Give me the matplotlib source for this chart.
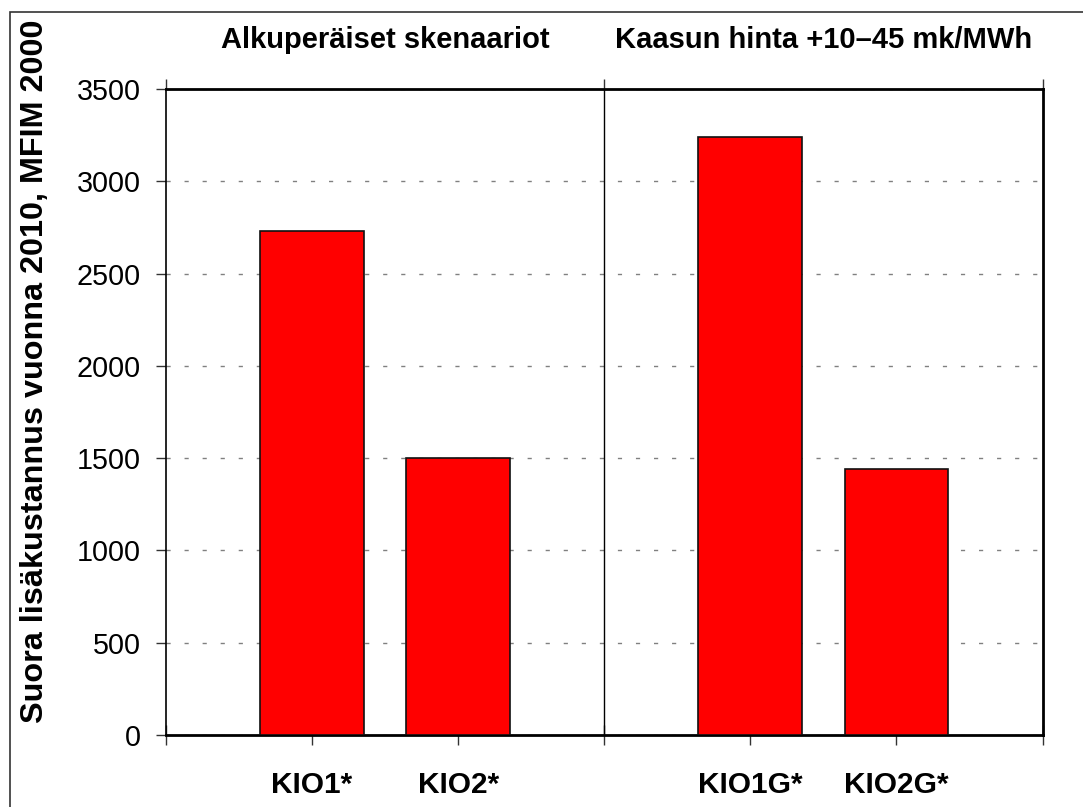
import matplotlib
matplotlib.use("Agg")
import matplotlib.pyplot as plt
from matplotlib.patches import Rectangle
from matplotlib.transforms import blended_transform_factory

# Data
categories = ["KIO1*", "KIO2*", "KIO1G*", "KIO2G*"]
positions = [1, 2, 4, 5]
values = [2730, 1500, 3240, 1440]
group_titles = ["Alkuperäiset skenaariot", "Kaasun hinta +10–45 mk/MWh"]
group_centers = [1.5, 4.5]
yticks = [0, 500, 1000, 1500, 2000, 2500, 3000, 3500]
ylabel = "Suora lisäkustannus vuonna 2010, MFIM 2000"

plt.rcParams['font.family'] = ['Liberation Sans', 'DejaVu Sans']

W, H = 1083, 807
fig = plt.figure(figsize=(W / 100, H / 100), dpi=100)
ax = fig.add_axes([166 / W, 1 - 735 / H, (1042.5 - 166) / W, (735 - 89) / H])

ax.bar(positions, values, width=0.71, color="#ff0000", edgecolor="#111111",
       linewidth=1.2, zorder=3)

ax.set_xlim(0, 6)
ax.set_ylim(0, 3500)

# divider between groups
ax.axvline(3, color="black", linewidth=1.0, zorder=4)

# y axis
ax.set_yticks(yticks)
ax.set_yticklabels([str(v) for v in yticks], fontsize=20.7)
ax.tick_params(axis="y", direction="out", length=7.2, width=1.0, pad=11,
               color="#333333")
ax.yaxis.grid(True, linestyle=(0, (3, 10)), color="#808080", linewidth=1.0,
              zorder=0)
ax.set_axisbelow(True)

# x axis
xt = [0, 1, 2, 3, 4, 5, 6]
lab = {p: c for p, c in zip(positions, categories)}
ax.set_xticks(xt)
ax.set_xticklabels([lab.get(t, "") for t in xt], fontsize=21.5, fontweight="bold")
ax.tick_params(axis="x", direction="inout", length=14.4, width=1.0, pad=19,
               color="#333333")

for s in ax.spines.values():
    s.set_color("black")
ax.spines["left"].set_linewidth(1.2)
ax.spines["bottom"].set_linewidth(2.0)
ax.spines["top"].set_linewidth(2.0)
ax.spines["right"].set_linewidth(2.0)

# top ticks at group boundaries
ax2 = ax.secondary_xaxis("top")
ax2.set_xticks([0, 3, 6])
ax2.set_xticklabels(["", "", ""])
ax2.tick_params(axis="x", direction="out", length=7.2, width=1.0, color="#333333")
ax2.spines["top"].set_visible(False)

# group titles
tr = blended_transform_factory(ax.transData, fig.transFigure)
for gx, t in zip(group_centers, group_titles):
    ax.text(gx, 1 - 48 / H, t, transform=tr, ha="center", va="baseline",
            fontsize=21, fontweight="bold")

# y label
fig.text(35 / W, 1 - 371 / H, ylabel, rotation=90, ha="center", va="center",
         fontsize=23.3, fontweight="bold")

# figure border
fig.patches.append(Rectangle((10 / W, -0.1), 1.2, 1.1 - 12 / H,
                             transform=fig.transFigure, fill=False,
                             edgecolor="#333333", linewidth=1.2))

fig.savefig("out.png", dpi=100)
